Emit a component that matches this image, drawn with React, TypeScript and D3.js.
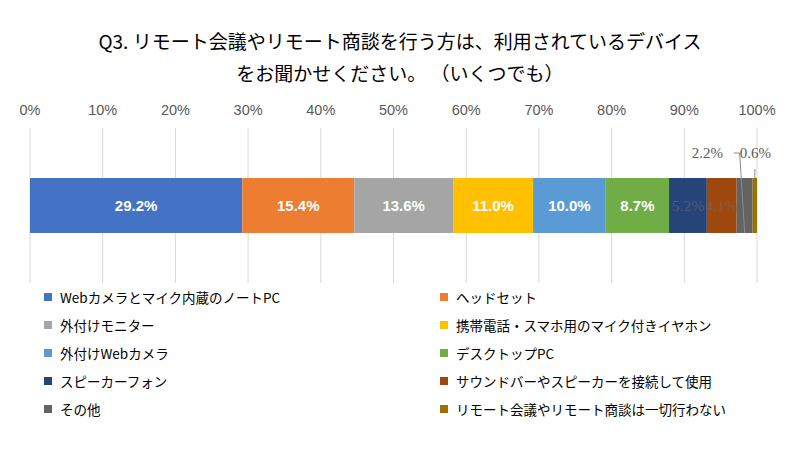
import { useEffect } from "react"
import * as d3 from "d3"

const titleLines = ["Q3. リモート会議やリモート商談を行う方は、利用されているデバイス", "をお聞かせください。 （いくつでも）"]
const categories = [
  "Webカメラとマイク内蔵のノートPC",
  "ヘッドセット",
  "外付けモニター",
  "携帯電話・スマホ用のマイク付きイヤホン",
  "外付けWebカメラ",
  "デスクトップPC",
  "スピーカーフォン",
  "サウンドバーやスピーカーを接続して使用",
  "その他",
  "リモート会議やリモート商談は一切行わない",
]
const values = [29.2, 15.4, 13.6, 11.0, 10.0, 8.7, 5.2, 4.1, 2.2, 0.6]
const colors = ["#4472C4", "#ED7D31", "#A5A5A5", "#FFC000", "#5B9BD5", "#70AD47", "#264478", "#9E480E", "#636363", "#997300"]
const ticks = [0, 10, 20, 30, 40, 50, 60, 70, 80, 90, 100]

const W = 800
const H = 450
const jp = "'Noto Sans CJK JP', 'Noto Sans', sans-serif"
const sans = "'Liberation Sans', Arial, sans-serif"
const serif = "'Liberation Serif', serif"

export default function App() {
  useEffect(() => {
    document.body.style.margin = "0"
  }, [])

  const x = d3.scaleLinear().domain([0, 100]).range([30, 757])
  const y = d3.scaleBand().domain(["all"]).range([128, 283]).paddingInner(0).paddingOuter(0.91)

  const starts = values.map((_, i) => d3.sum(values.slice(0, i)))
  const barY = y("all") ?? 0
  const bw = y.bandwidth()
  const mid = (i: number) => x(starts[i] + values[i] / 2)

  return (
    <svg width={W} height={H} style={{ display: "block", background: "#fff" }}>
      {titleLines.map((t, i) => (
        <text key={i} x={W / 2} y={49 + i * 32} textAnchor="middle" fontSize={19} fill="#000" fontFamily={jp}>
          {t}
        </text>
      ))}

      {ticks.map((t) => (
        <g key={t}>
          <line x1={x(t)} x2={x(t)} y1={y.range()[0]} y2={y.range()[1]} stroke="#D9D9D9" strokeWidth={1} />
          <text x={x(t)} y={115} textAnchor="middle" fontSize={14.5} fill="#595959" fontFamily={sans}>
            {t}%
          </text>
        </g>
      ))}

      {values.map((v, i) => (
        <rect key={i} x={x(starts[i])} y={barY} width={x(starts[i] + v) - x(starts[i])} height={bw} fill={colors[i]} />
      ))}

      {values.map((v, i) =>
        i < 6 ? (
          <text
            key={i}
            x={mid(i)}
            y={barY + bw / 2}
            textAnchor="middle"
            dominantBaseline="central"
            fontSize={15}
            fontWeight="bold"
            fill="#fff"
            fontFamily={sans}
          >
            {v.toFixed(1)}%
          </text>
        ) : i < 8 ? (
          <text
            key={i}
            x={mid(i)}
            y={barY + bw / 2}
            textAnchor="middle"
            dominantBaseline="central"
            fontSize={15.5}
            fill="#6a6a6a"
            fillOpacity={0.65}
            fontFamily={serif}
          >
            {v.toFixed(1)}%
          </text>
        ) : null
      )}

      {/* leader labels for the two thin slices */}
      <text x={mid(8) - 53} y={158} fontSize={15} fill="#595959" fontFamily={serif}>
        {values[8].toFixed(1)}%
      </text>
      <line x1={mid(8) - 11} y1={153} x2={mid(8) - 5} y2={153} stroke="#8c8c8c" />
      <line x1={mid(8) - 5} y1={153} x2={mid(8)} y2={barY + bw} stroke="#8c8c8c" />
      <text x={mid(9) - 15} y={158} fontSize={15} fill="#595959" fontFamily={serif}>
        {values[9].toFixed(1)}%
      </text>
      <line x1={mid(9)} y1={169} x2={mid(9)} y2={barY} stroke="#8c8c8c" />

      {categories.map((c, i) => {
        const col = i % 2
        const row = Math.floor(i / 2)
        const lx = col === 0 ? 44 : 440
        const ly = 297 + row * 28
        return (
          <g key={c}>
            <rect x={lx} y={ly - 4} width={8} height={8} fill={colors[i]} />
            <text x={lx + 16} y={ly} dominantBaseline="central" fontSize={13.5} fill="#000" fontFamily={jp}>
              {c}
            </text>
          </g>
        )
      })}
    </svg>
  )
}
